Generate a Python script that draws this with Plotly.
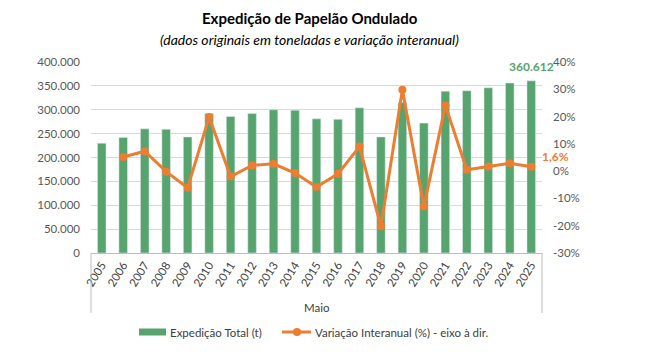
import plotly.graph_objects as go

years = ["2005", "2006", "2007", "2008", "2009", "2010", "2011", "2012", "2013", "2014", "2015",
         "2016", "2017", "2018", "2019", "2020", "2021", "2022", "2023", "2024", "2025"]
expedicao = [230000, 242000, 260000, 259000, 243000, 292000, 286000, 292000, 300000,
             299000, 281000, 280000, 304000, 243000, 315000, 272000, 339000, 340000,
             346000, 356000, 360612]
variacao = [None, 5.2, 7.3, -0.2, -6.1, 19.8, -2.0, 2.1, 2.7, -0.7, -5.8, -1.0, 9.0,
            -20.2, 29.8, -13.0, 24.1, 0.5, 1.7, 2.9, 1.6]

left_ticks = [0, 50000, 100000, 150000, 200000, 250000, 300000, 350000, 400000]
left_labels = ["0", "50.000", "100.000", "150.000", "200.000", "250.000", "300.000", "350.000", "400.000"]
right_ticks = [-30, -20, -10, 0, 10, 20, 30, 40]
right_labels = ["-30%", "-20%", "-10%", "0%", "10%", "20%", "30%", "40%"]

bar_name = "Expedição Total (t)"
line_name = "Variação Interanual (%) - eixo à dir."

GREEN = "#57A46F"
ORANGE = "#ED7D31"
FONT = "Lato, Open Sans, sans-serif"

fig = go.Figure()
fig.add_trace(go.Bar(x=years, y=expedicao, name=bar_name,
                     marker=dict(color=GREEN), yaxis="y", showlegend=False))
fig.add_trace(go.Scatter(x=years, y=variacao, name=line_name,
                         mode="lines+markers", line=dict(color=ORANGE, width=3),
                         marker=dict(color=ORANGE, size=8), yaxis="y2", showlegend=False))

# page body has an 8px default margin: compensate so the picture lines up
OFF = 8
W, H = 646 - OFF, 355 - OFF
PL, PR, PT, PB = 91, 542, 62, 253  # plot box in window pixels
L = PL - OFF
T = PT - OFF
R = W - (PR - OFF)
B = H - (PB - OFF)
pw = PR - PL
ph = PB - PT

def px(x):
    return (x - PL) / pw

def py(y):
    return (PB - y) / ph

n = len(years)

fig.update_layout(
    width=W, height=H,
    margin=dict(l=L, r=R, t=T, b=B, autoexpand=False),
    paper_bgcolor="white", plot_bgcolor="white",
    font=dict(family=FONT, color="#595959", size=11),
    bargap=0.6,
    showlegend=False,
    xaxis=dict(type="category", categoryorder="array", categoryarray=years,
               range=[-0.5, n - 0.5], autorange=False, automargin=False,
               tickangle=-58, tickfont=dict(size=11.5, color="#404040"),
               showline=True, linecolor="#BFBFBF", linewidth=1, ticks="",
               showgrid=False, zeroline=False),
    yaxis=dict(range=[0, 400000], tickvals=left_ticks, ticktext=left_labels, automargin=False,
               showgrid=True, gridcolor="#D9D9D9", gridwidth=1, zeroline=False,
               tickfont=dict(size=11.5, color="#595959"), ticklabelstandoff=10,
               showline=False),
    yaxis2=dict(range=[-30, 40], tickvals=right_ticks, ticktext=right_labels, automargin=False,
                overlaying="y", side="right", showgrid=False, zeroline=False,
                tickfont=dict(size=11.5, color="#595959"), ticklabelstandoff=10,
                showline=False),
)

annotations = [
    dict(text="<b>Expedição de Papelão Ondulado</b>", x=px(310), y=py(18), xref="paper", yref="paper",
         showarrow=False, font=dict(size=15, color="#000000", family=FONT), xanchor="center", yanchor="middle"),
    dict(text="<i>(dados originais em toneladas e variação interanual)</i>", x=px(309), y=py(40),
         xref="paper", yref="paper", showarrow=False,
         font=dict(size=14, color="#000000", family=FONT), xanchor="center", yanchor="middle"),
    dict(text="Maio", x=0.5, y=py(307), xref="paper", yref="paper", showarrow=False,
         font=dict(size=11.5, color="#404040", family=FONT), xanchor="center", yanchor="middle"),
    dict(text="<b>360.612</b>", x=n - 1, y=expedicao[-1], xref="x", yref="y", showarrow=False,
         yshift=5, font=dict(size=12, color=GREEN, family=FONT), xanchor="center", yanchor="bottom"),
    dict(text="<b>1,6%</b>", x=n - 1, y=variacao[-1], xref="x", yref="y2", showarrow=False,
         xshift=9, yshift=10, font=dict(size=12, color=ORANGE, family=FONT), xanchor="left", yanchor="middle"),
    # custom legend texts
    dict(text=bar_name, x=px(168), y=py(332), xref="paper", yref="paper", showarrow=False,
         font=dict(size=11.5, color="#404040", family=FONT), xanchor="left", yanchor="middle"),
    dict(text=line_name, x=px(313), y=py(332), xref="paper", yref="paper", showarrow=False,
         font=dict(size=11.5, color="#404040", family=FONT), xanchor="left", yanchor="middle"),
]
fig.update_layout(annotations=annotations)

fig.update_layout(shapes=[
    dict(type="line", xref="paper", yref="paper", x0=0, x1=0, y0=0, y1=py(313),
         line=dict(color="#BFBFBF", width=1)),
    dict(type="line", xref="paper", yref="paper", x0=1, x1=1, y0=0, y1=py(313),
         line=dict(color="#BFBFBF", width=1)),
    # legend symbols
    dict(type="rect", xref="paper", yref="paper", x0=px(139), x1=px(166), y0=py(335.5), y1=py(328.5),
         fillcolor=GREEN, line=dict(width=0)),
    dict(type="line", xref="paper", yref="paper", x0=px(282), x1=px(311), y0=py(332), y1=py(332),
         line=dict(color=ORANGE, width=3)),
    dict(type="circle", xref="paper", yref="paper", x0=px(293), x1=px(301), y0=py(336), y1=py(328),
         fillcolor=ORANGE, line=dict(width=0)),
])

fig.write_html("out.html")
